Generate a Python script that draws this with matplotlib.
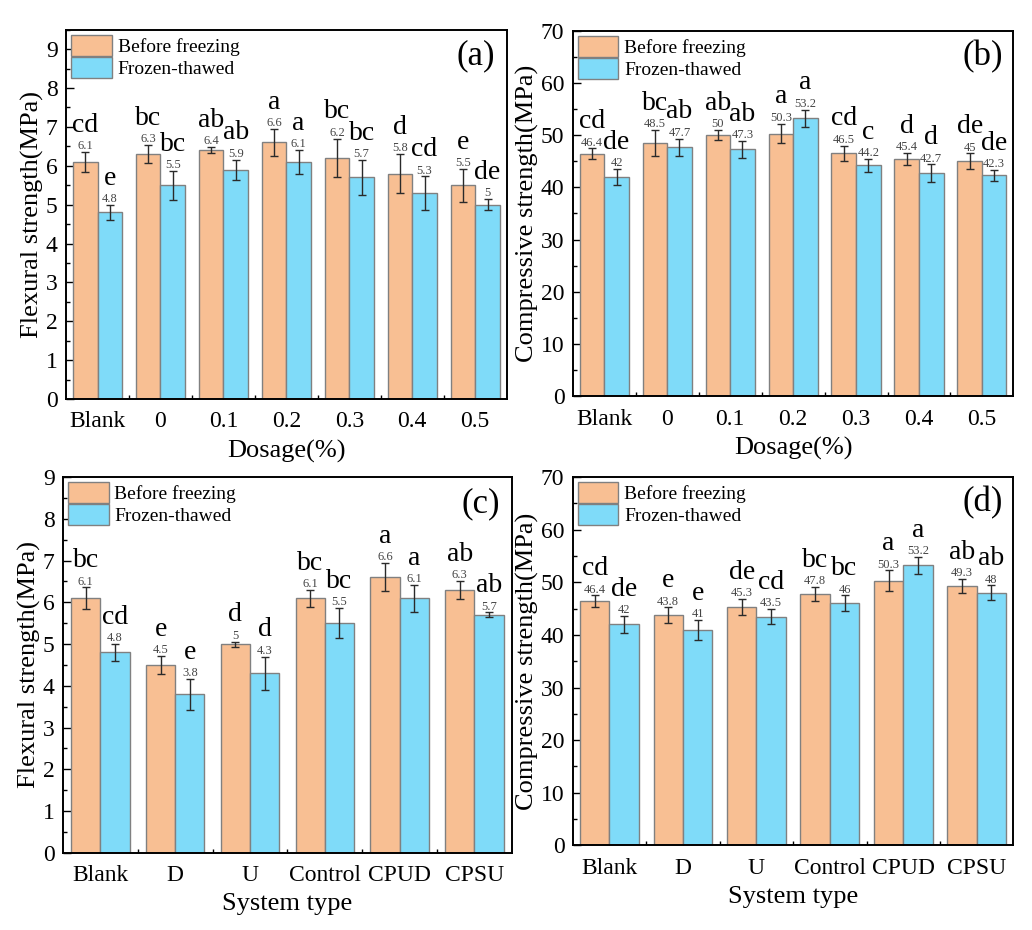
import numpy as np
import matplotlib.pyplot as plt
from matplotlib.ticker import MultipleLocator

plt.rcParams['font.family'] = ['Liberation Serif', 'DejaVu Serif']

# categories
dosage = ['Blank', '0', '0.1', '0.2', '0.3', '0.4', '0.5']
systems = ['Blank', 'D', 'U', 'Control', 'CPUD', 'CPSU']
series_names = ['Before freezing', 'Frozen-thawed']

# (a) flexural strength vs dosage
flex_dose_before = [6.1, 6.3, 6.4, 6.6, 6.2, 5.8, 5.5]
flex_dose_after = [4.8, 5.5, 5.9, 6.1, 5.7, 5.3, 5.0]
flex_dose_before_err = [0.25, 0.23, 0.08, 0.34, 0.50, 0.50, 0.42]
flex_dose_after_err = [0.19, 0.37, 0.26, 0.31, 0.45, 0.43, 0.14]
flex_dose_before_sig = ['cd', 'bc', 'ab', 'a', 'bc', 'd', 'e']
flex_dose_after_sig = ['e', 'bc', 'ab', 'a', 'bc', 'cd', 'de']

# (b) compressive strength vs dosage
comp_dose_before = [46.4, 48.5, 50.0, 50.3, 46.5, 45.4, 45.0]
comp_dose_after = [42.0, 47.7, 47.3, 53.2, 44.2, 42.7, 42.3]
comp_dose_before_err = [1.05, 2.5, 1.0, 1.9, 1.5, 1.2, 1.5]
comp_dose_after_err = [1.5, 1.65, 1.6, 1.7, 1.2, 1.7, 1.0]
comp_dose_before_sig = ['cd', 'bc', 'ab', 'a', 'cd', 'd', 'de']
comp_dose_after_sig = ['de', 'ab', 'ab', 'a', 'c', 'd', 'de']

# (c) flexural strength vs system type
flex_sys_before = [6.1, 4.5, 5.0, 6.1, 6.6, 6.3]
flex_sys_after = [4.8, 3.8, 4.3, 5.5, 6.1, 5.7]
flex_sys_before_err = [0.26, 0.21, 0.06, 0.20, 0.34, 0.21]
flex_sys_after_err = [0.21, 0.37, 0.40, 0.36, 0.32, 0.06]
flex_sys_before_sig = ['bc', 'e', 'd', 'bc', 'a', 'ab']
flex_sys_after_sig = ['cd', 'e', 'd', 'bc', 'a', 'ab']

# (d) compressive strength vs system type
comp_sys_before = [46.4, 43.8, 45.3, 47.8, 50.3, 49.3]
comp_sys_after = [42.0, 41.0, 43.5, 46.0, 53.2, 48.0]
comp_sys_before_err = [1.1, 1.45, 1.55, 1.3, 1.95, 1.3]
comp_sys_after_err = [1.65, 1.9, 1.4, 1.5, 1.65, 1.4]
comp_sys_before_sig = ['cd', 'e', 'de', 'bc', 'a', 'ab']
comp_sys_after_sig = ['de', 'e', 'cd', 'bc', 'a', 'ab']

c_before = '#F8BF93'
c_after = '#7FDBF9'


def panel(ax, cats, before, after, err_b, err_a, sig_b, sig_a,
          ymax, ystep, ylabel, xlabel, tag, width):
    x = np.arange(len(cats))
    for off, vals, errs, sigs, col, name in [
            (-width / 2, before, err_b, sig_b, c_before, series_names[0]),
            (width / 2, after, err_a, sig_a, c_after, series_names[1])]:
        ax.bar(x + off, vals, width, color=col, edgecolor='#808080',
               linewidth=1, label=name, zorder=2)
        ax.errorbar(x + off, vals, yerr=errs, fmt='none', ecolor='#2a2a2a',
                    elinewidth=1, capsize=3, capthick=1, zorder=3)
        for xi, v, e, s in zip(x + off, vals, errs, sigs):
            ax.annotate('%g' % v, (xi, v + e), xytext=(0, 2),
                        textcoords='offset points', ha='center',
                        va='baseline', fontsize=9, color='#454545')
            ax.annotate(s, (xi, v + e), xytext=(0, 14.5),
                        textcoords='offset points', ha='center',
                        va='baseline', fontsize=20)
    ax.set_xlim(-0.5, len(cats) - 0.5)
    ax.set_ylim(0, ymax)
    ax.set_xticks(x)
    ax.set_xticklabels(cats)
    ax.set_xticks(x[:-1] + 0.5, minor=True)
    ax.yaxis.set_major_locator(MultipleLocator(ystep))
    ax.yaxis.set_minor_locator(MultipleLocator(ystep / 2))
    ax.tick_params(which='both', direction='in', labelsize=17, width=1)
    ax.tick_params(which='major', length=6)
    ax.tick_params(which='minor', length=3)
    ax.tick_params(axis='x', which='major', pad=9)
    ax.tick_params(axis='y', which='major', pad=6)
    for sp in ax.spines.values():
        sp.set_linewidth(1.4)
    ax.set_ylabel(ylabel, fontsize=19, labelpad=1)
    ax.set_xlabel(xlabel, fontsize=19, labelpad=5)
    ax.legend(loc='upper left', frameon=False, fontsize=14,
              handlelength=2.1, handleheight=1.3, labelspacing=0.05,
              handletextpad=0.3, borderpad=0.1, borderaxespad=0.15)
    ax.text(0.93, 0.93, tag, transform=ax.transAxes, ha='center',
            va='center', fontsize=25)


fig = plt.figure(figsize=(10.32, 9.3), dpi=100)
ax_a = fig.add_axes([0.064, 0.571, 0.427, 0.397])
ax_b = fig.add_axes([0.555, 0.574, 0.427, 0.393])
ax_c = fig.add_axes([0.061, 0.083, 0.435, 0.404])
ax_d = fig.add_axes([0.555, 0.091, 0.427, 0.396])

panel(ax_a, dosage, flex_dose_before, flex_dose_after, flex_dose_before_err,
      flex_dose_after_err, flex_dose_before_sig, flex_dose_after_sig,
      9.5, 1, 'Flexural strength(MPa)', 'Dosage(%)', '(a)', 0.39)
panel(ax_b, dosage, comp_dose_before, comp_dose_after, comp_dose_before_err,
      comp_dose_after_err, comp_dose_before_sig, comp_dose_after_sig,
      70, 10, 'Compressive strength(MPa)', 'Dosage(%)', '(b)', 0.39)
panel(ax_c, systems, flex_sys_before, flex_sys_after, flex_sys_before_err,
      flex_sys_after_err, flex_sys_before_sig, flex_sys_after_sig,
      9, 1, 'Flexural strength(MPa)', 'System type', '(c)', 0.39)
panel(ax_d, systems, comp_sys_before, comp_sys_after, comp_sys_before_err,
      comp_sys_after_err, comp_sys_before_sig, comp_sys_after_sig,
      70, 10, 'Compressive strength(MPa)', 'System type', '(d)', 0.4)

fig.savefig('out.png', dpi=100)
